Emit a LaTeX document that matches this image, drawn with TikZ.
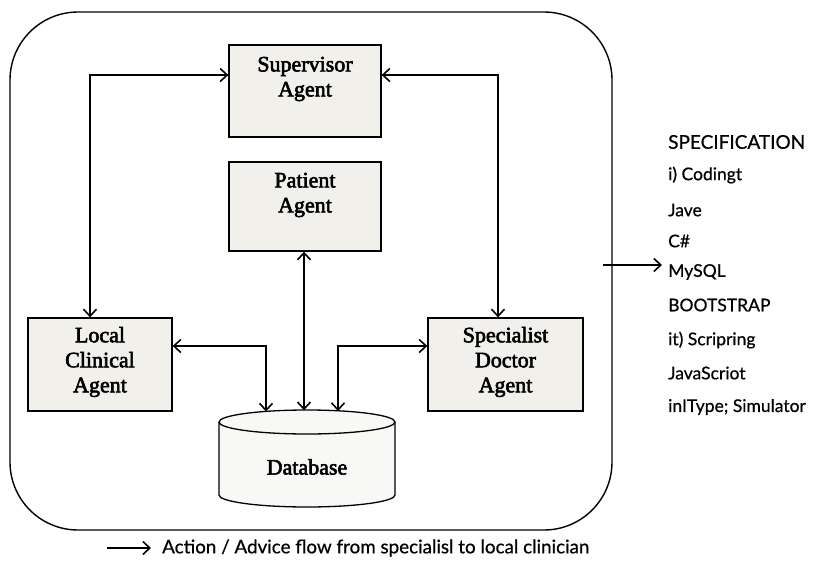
\documentclass[tikz,border=0pt]{standalone}
\usepackage{fontspec}
\setmainfont{Liberation Serif}
\newfontfamily\labelfont[FakeBold=2.6]{Liberation Serif}
\newfontfamily\specfont[FakeBold=0.6]{Lato}
\usetikzlibrary{arrows.meta}
\definecolor{boxfill}{HTML}{F1F0EA}
\definecolor{dbfill}{HTML}{F8F8F6}
\tikzset{
  agent/.style={draw, line width=1.3pt, fill=boxfill, minimum width=#1, inner sep=0pt},
  boxtext/.style={align=center, font=\labelfont\fontsize{22}{25}\selectfont},
  tip/.tip={Straight Barb[length=7pt,width=13pt,line width=1.6pt]},
  link/.style={line width=1.4pt, tip-tip},
  oneway/.style={line width=1.4pt, -tip},
  spec/.style={anchor=west, inner sep=0pt, font=\specfont\fontsize{17.5}{20}\selectfont},
}
\begin{document}
\begin{tikzpicture}[x=1pt,y=-1pt]
\useasboundingbox (0,0) rectangle (815,565);
% outer frame
\draw[line width=1.4pt, rounded corners=68pt] (10,12) rectangle (612,530);
% agent boxes
\node[agent=152pt, minimum height=92pt] (sup) at (305,91) {};
\node[boxtext] (suptxt) at (305,79) {Supervisor\\Agent};
\node[agent=152pt, minimum height=89pt] (pat) at (305,206.5) {};
\node[boxtext] (pattxt) at (305,195) {Patient\\Agent};
\node[agent=144pt, minimum height=93pt] (loc) at (100,364.5) {};
\node[boxtext] (loctxt) at (100,362) {Local\\Clinical\\Agent};
\node[agent=155pt, minimum height=93pt] (spc) at (505.5,364.5) {};
\node[boxtext] (spctxt) at (505.5,362) {Specialist\\Doctor\\Agent};
% database cylinder
\draw[line width=1.3pt, fill=dbfill] (219,422) -- (219,495) arc[start angle=180, end angle=360, x radius=88pt, y radius=12pt] -- (395,422);
\draw[line width=1.3pt, fill=dbfill] (307,422) ellipse[x radius=88pt, y radius=12pt];
\node[boxtext] (db) at (307,467) {Database};
\coordinate (dbL) at (266,411.5);
\coordinate (dbC) at (304,410.2);
\coordinate (dbR) at (338,411);
% connectors
\draw[link] (sup.west |- 0,75) -| (loc.north -| 90,0);
\draw[link] (sup.east |- 0,75) -| (spc.north -| 498,0);
\draw[link] (pat.south -| dbC) -- (dbC);
\draw[link] (loc.east |- 0,346) -| (dbL);
\draw[link] (spc.west |- 0,346) -| (dbR);
% specification list
\node[spec, font=\specfont\fontsize{19}{20}\selectfont] (s0) at (668,142) {SPECIFICATION};
\node[spec] (s1) at (668,175) {i) Codingt};
\node[spec] (s2) at (668,210) {Jave};
\node[spec] (s3) at (668,241) {C\#};
\node[spec] (s4) at (668,272) {MySQL};
\node[spec] (s5) at (668,305) {BOOTSTRAP};
\node[spec] (s6) at (668,340) {it) Scripring};
\node[spec] (s7) at (668,373) {JavaScriot};
\node[spec] (s8) at (668,407) {inIType; Simulator};
\coordinate (specstart) at (603,265);
\coordinate (specend) at (662,265);
\draw[oneway] (specstart) -- (specend);
% legend
\coordinate (lgA) at (107,548);
\node[spec, font=\specfont\fontsize{18.8}{20}\selectfont] (lgtxt) at (162,548) {Action / Advice flow from specialisl to local clinician};
\draw[oneway] (lgA) -- ([xshift=-11pt]lgtxt.west);
\end{tikzpicture}
\end{document}
